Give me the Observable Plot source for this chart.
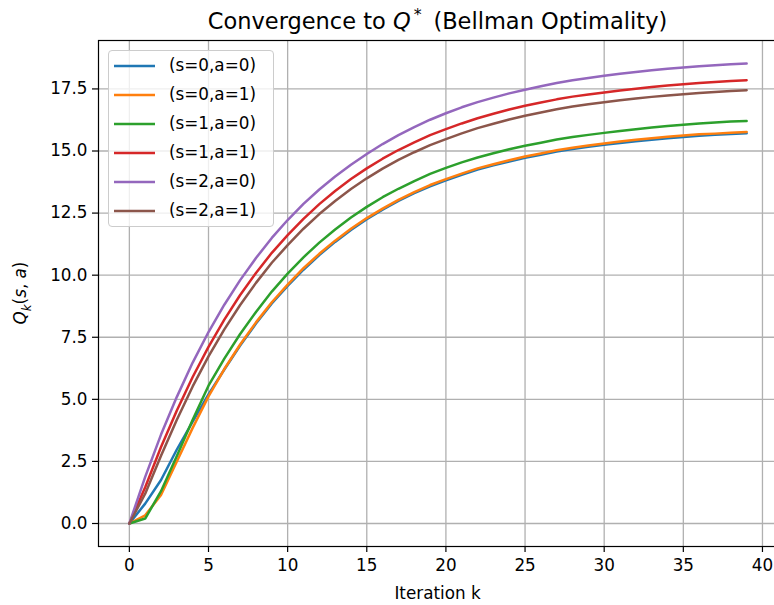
<!DOCTYPE html>
<html><head><meta charset="utf-8">
<script src="https://cdn.jsdelivr.net/npm/d3@7"></script>
<script src="https://cdn.jsdelivr.net/npm/@observablehq/plot@0.6"></script>
<style>
body{margin:0;background:#fff;font-family:"DejaVu Sans",sans-serif;}
#wrap{position:relative;width:774px;height:605px;overflow:hidden;}
#chart{position:absolute;left:0;top:0;width:780px;}
#chart svg{max-width:none !important;}
#title{position:absolute;top:1px;left:0;width:875px;text-align:center;font-size:22.5px;line-height:28px;color:#000;white-space:nowrap;}
#xlabel{position:absolute;top:582px;left:0;width:875px;text-align:center;font-size:16.8px;line-height:22px;color:#000;}
#ylabel{position:absolute;left:22px;top:293px;transform:translate(-50%,-50%) rotate(-90deg);font-size:16.8px;white-space:nowrap;color:#000;}
#legend{position:absolute;left:108px;top:50px;width:166px;height:177px;border:1px solid #cccccc;border-radius:4px;background:rgba(255,255,255,0.8);box-sizing:border-box;}
.row{position:absolute;left:0;height:29px;width:100%;font-size:16.8px;line-height:29px;}
.row svg{position:absolute;left:5px;top:13px;}
.row span{position:absolute;left:60px;top:0;}
sup{font-size:70%;}
</style></head>
<body>
<div id="wrap">
<div id="chart"></div>
<div id="title">Convergence to <i>Q</i><sup>&#8201;*</sup>&#8201; (Bellman Optimality)</div>
<div id="xlabel">Iteration k</div>
<div id="ylabel"><i>Q</i><sub style="font-size:70%"><i>k</i></sub>(<i>s</i>, <i>a</i>)</div>
<div id="legend"></div>
</div>
<script>
const iterations = [0,1,2,3,4,5,6,7,8,9,10,11,12,13,14,15,16,17,18,19,20,21,22,23,24,25,26,27,28,29,30,31,32,33,34,35,36,37,38,39];
const seriesNames = ["(s=0,a=0)","(s=0,a=1)","(s=1,a=0)","(s=1,a=1)","(s=2,a=0)","(s=2,a=1)"];
const seriesColors = ["#1f77b4","#ff7f0e","#2ca02c","#d62728","#9467bd","#8c564b"];
const q_s0_a0 = [0,0.80,1.75,2.98,4.10,5.20,6.20,7.17,8.05,8.86,9.57,10.22,10.81,11.34,11.82,12.25,12.64,12.99,13.30,13.58,13.82,14.04,14.25,14.42,14.58,14.73,14.85,14.98,15.08,15.17,15.25,15.32,15.39,15.45,15.51,15.56,15.61,15.65,15.68,15.71];
const q_s0_a1 = [0,0.33,1.15,2.50,3.85,5.12,6.22,7.21,8.10,8.91,9.62,10.28,10.86,11.39,11.87,12.30,12.68,13.03,13.34,13.63,13.87,14.09,14.30,14.47,14.63,14.78,14.90,15.03,15.13,15.22,15.30,15.38,15.45,15.51,15.57,15.62,15.67,15.70,15.74,15.77];
const q_s1_a0 = [0,0.20,1.30,2.72,4.18,5.55,6.64,7.63,8.52,9.34,10.06,10.72,11.31,11.84,12.32,12.75,13.14,13.48,13.79,14.08,14.32,14.54,14.74,14.91,15.07,15.21,15.33,15.46,15.56,15.65,15.73,15.81,15.88,15.95,16.01,16.06,16.11,16.15,16.19,16.21];
const q_s1_a1 = [0,1.46,3.08,4.55,5.90,7.11,8.21,9.20,10.09,10.90,11.61,12.27,12.86,13.39,13.87,14.30,14.69,15.04,15.35,15.64,15.88,16.11,16.32,16.50,16.67,16.82,16.95,17.08,17.19,17.28,17.36,17.44,17.51,17.58,17.64,17.69,17.74,17.78,17.82,17.85];
const q_s2_a0 = [0,1.88,3.58,5.10,6.48,7.71,8.81,9.80,10.69,11.50,12.22,12.87,13.45,13.97,14.45,14.88,15.28,15.64,15.96,16.26,16.52,16.76,16.97,17.15,17.32,17.47,17.61,17.74,17.85,17.94,18.03,18.11,18.18,18.25,18.31,18.36,18.41,18.45,18.49,18.52];
const q_s2_a1 = [0,1.20,2.73,4.18,5.52,6.73,7.82,8.80,9.69,10.50,11.21,11.87,12.46,12.99,13.47,13.90,14.29,14.64,14.95,15.24,15.48,15.71,15.92,16.10,16.27,16.42,16.55,16.68,16.79,16.88,16.96,17.04,17.11,17.18,17.24,17.29,17.34,17.38,17.42,17.45];
const xTicks = [0,5,10,15,20,25,30,35,40];
const yTicks = [0,2.5,5,7.5,10,12.5,15,17.5];

const allSeries = [q_s0_a0,q_s0_a1,q_s1_a0,q_s1_a1,q_s2_a0,q_s2_a1];
const rows = [];
allSeries.forEach((vals, si) => vals.forEach((v, i) => rows.push({k: iterations[i], q: v, s: seriesNames[si]})));

const chart = Plot.plot({
  width: 780, height: 605,
  marginLeft: 98, marginRight: 3, marginTop: 40, marginBottom: 59,
  style: {fontFamily: "DejaVu Sans", fontSize: "16.8px", color: "#000", background: "#fff", maxWidth: "none"},
  x: {domain: [-1.95, 40.95]},
  y: {domain: [-0.926, 19.45]},
  color: {domain: seriesNames, range: seriesColors},
  marks: [
    Plot.gridX(xTicks, {stroke: "#b0b0b0", strokeOpacity: 1, strokeWidth: 1.3}),
    Plot.gridY(yTicks, {stroke: "#b0b0b0", strokeOpacity: 1, strokeWidth: 1.3}),
    Plot.line(rows, {x: "k", y: "q", z: "s", stroke: "s", strokeWidth: 2.5}),
    Plot.frame({stroke: "#000", strokeWidth: 1.2}),
    Plot.axisX(xTicks, {tickSize: 6, tickPadding: 7, tickFormat: d => String(d), fontSize: 16.8, label: null, strokeWidth: 1.2}),
    Plot.axisY(yTicks, {tickSize: 6, tickPadding: 5, tickFormat: d => d.toFixed(1), fontSize: 16.8, label: null, strokeWidth: 1.2})
  ]
});
document.getElementById("chart").appendChild(chart);

const legend = document.getElementById("legend");
seriesNames.forEach((name, i) => {
  const r = document.createElement("div");
  r.className = "row";
  r.style.top = (0 + i * 28.9) + "px";
  r.innerHTML = `<svg width="42" height="4"><line x1="0" x2="41" y1="2" y2="2" stroke="${seriesColors[i]}" stroke-width="2.5"/></svg><span>${name}</span>`;
  legend.appendChild(r);
});
</script>
</body></html>
